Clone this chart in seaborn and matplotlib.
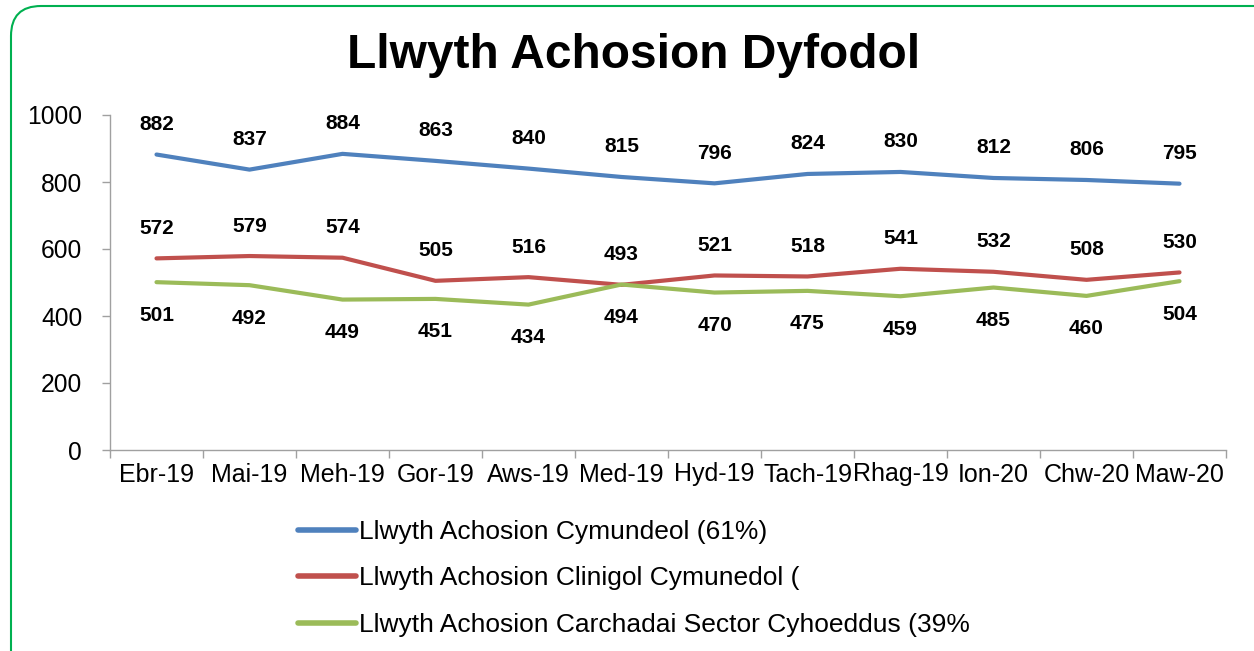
import numpy as np
import pandas as pd
import seaborn as sns
import matplotlib.pyplot as plt
from matplotlib.patches import FancyBboxPatch
from matplotlib.lines import Line2D

months = ['Ebr-19', 'Mai-19', 'Meh-19', 'Gor-19', 'Aws-19', 'Med-19',
          'Hyd-19', 'Tach-19', 'Rhag-19', 'Ion-20', 'Chw-20', 'Maw-20']
cymunedol = [882, 837, 884, 863, 840, 815, 796, 824, 830, 812, 806, 795]
clinigol = [572, 579, 574, 505, 516, 493, 521, 518, 541, 532, 508, 530]
carchardai = [501, 492, 449, 451, 434, 494, 470, 475, 459, 485, 460, 504]
series_names = ['Llwyth Achosion Cymundeol (61%)',
                'Llwyth Achosion Clinigol Cymunedol (',
                'Llwyth Achosion Carchadai Sector Cyhoeddus (39%']
colors = ['#4F81BD', '#C0504D', '#9BBB59']

sns.set_style('white')
plt.rcParams['font.family'] = ['Liberation Sans', 'DejaVu Sans']
plt.rcParams['text.color'] = 'black'
plt.rcParams['xtick.color'] = 'black'
plt.rcParams['ytick.color'] = 'black'

W, H = 1254, 651
fig = plt.figure(figsize=(W / 100, H / 100), dpi=100)

# rounded green frame in pixel coordinates, cut by the image edges
frame = FancyBboxPatch((11, -40), 1280, H - 6 + 40,
                       boxstyle='round,pad=0,rounding_size=30',
                       transform=None, facecolor='white',
                       edgecolor='#00B050', linewidth=1.5, zorder=-5)
fig.patches.append(frame)

ax = fig.add_axes([110 / W, 1 - 450 / H, (1226 - 110) / W, (450 - 115) / H])
ax.set_facecolor('none')

df = pd.DataFrame({
    'x': list(range(len(months))) * 3,
    'value': cymunedol + clinigol + carchardai,
    'series': sum([[n] * len(months) for n in series_names], []),
})
sns.lineplot(data=df, x='x', y='value', hue='series', palette=colors,
             linewidth=3, ax=ax, legend=False)

for vals, off in [(cymunedol, 30), (clinigol, 30), (carchardai, -33)]:
    for i, v in enumerate(vals):
        ax.annotate(str(v), (i, v), xytext=(0, off), textcoords='offset pixels',
                    ha='center', va='center', fontsize=15, fontweight='bold')

ax.set_xlim(-0.5, len(months) - 0.5)
ax.set_ylim(0, 1000)
ax.set_yticks(range(0, 1001, 200))
ax.tick_params(axis='y', labelsize=17.7, length=6, width=1, color='#A0A0A0',
               direction='out', left=True, pad=14, labelcolor='black')
ax.set_xticks(range(len(months)))
ax.set_xticklabels(months)
ax.set_xticks(np.arange(-0.5, len(months), 1), minor=True)
ax.tick_params(axis='x', which='major', length=0, labelsize=18, pad=9,
               labelcolor='black')
ax.tick_params(axis='x', which='minor', length=6, width=1, color='#A0A0A0',
               direction='out', bottom=True)
ax.set_xlabel('')
ax.set_ylabel('')
for s in ['top', 'right']:
    ax.spines[s].set_visible(False)
for s in ['left', 'bottom']:
    ax.spines[s].set_color('#A0A0A0')
    ax.spines[s].set_linewidth(1)

fig.text(634 / W, 1 - 55 / H, 'Llwyth Achosion Dyfodol', ha='center',
         va='center', fontsize=34.5, fontweight='bold')

handles = [Line2D([0], [0], color=c, linewidth=4) for c in colors]
fig.legend(handles, series_names, loc='upper left',
           bbox_to_anchor=(298 / W, 1 - 520 / H), frameon=False,
           fontsize=19, handlelength=2.2, handletextpad=0.1,
           labelspacing=0.85, borderaxespad=0, borderpad=0)

fig.savefig('out.png', dpi=100)
